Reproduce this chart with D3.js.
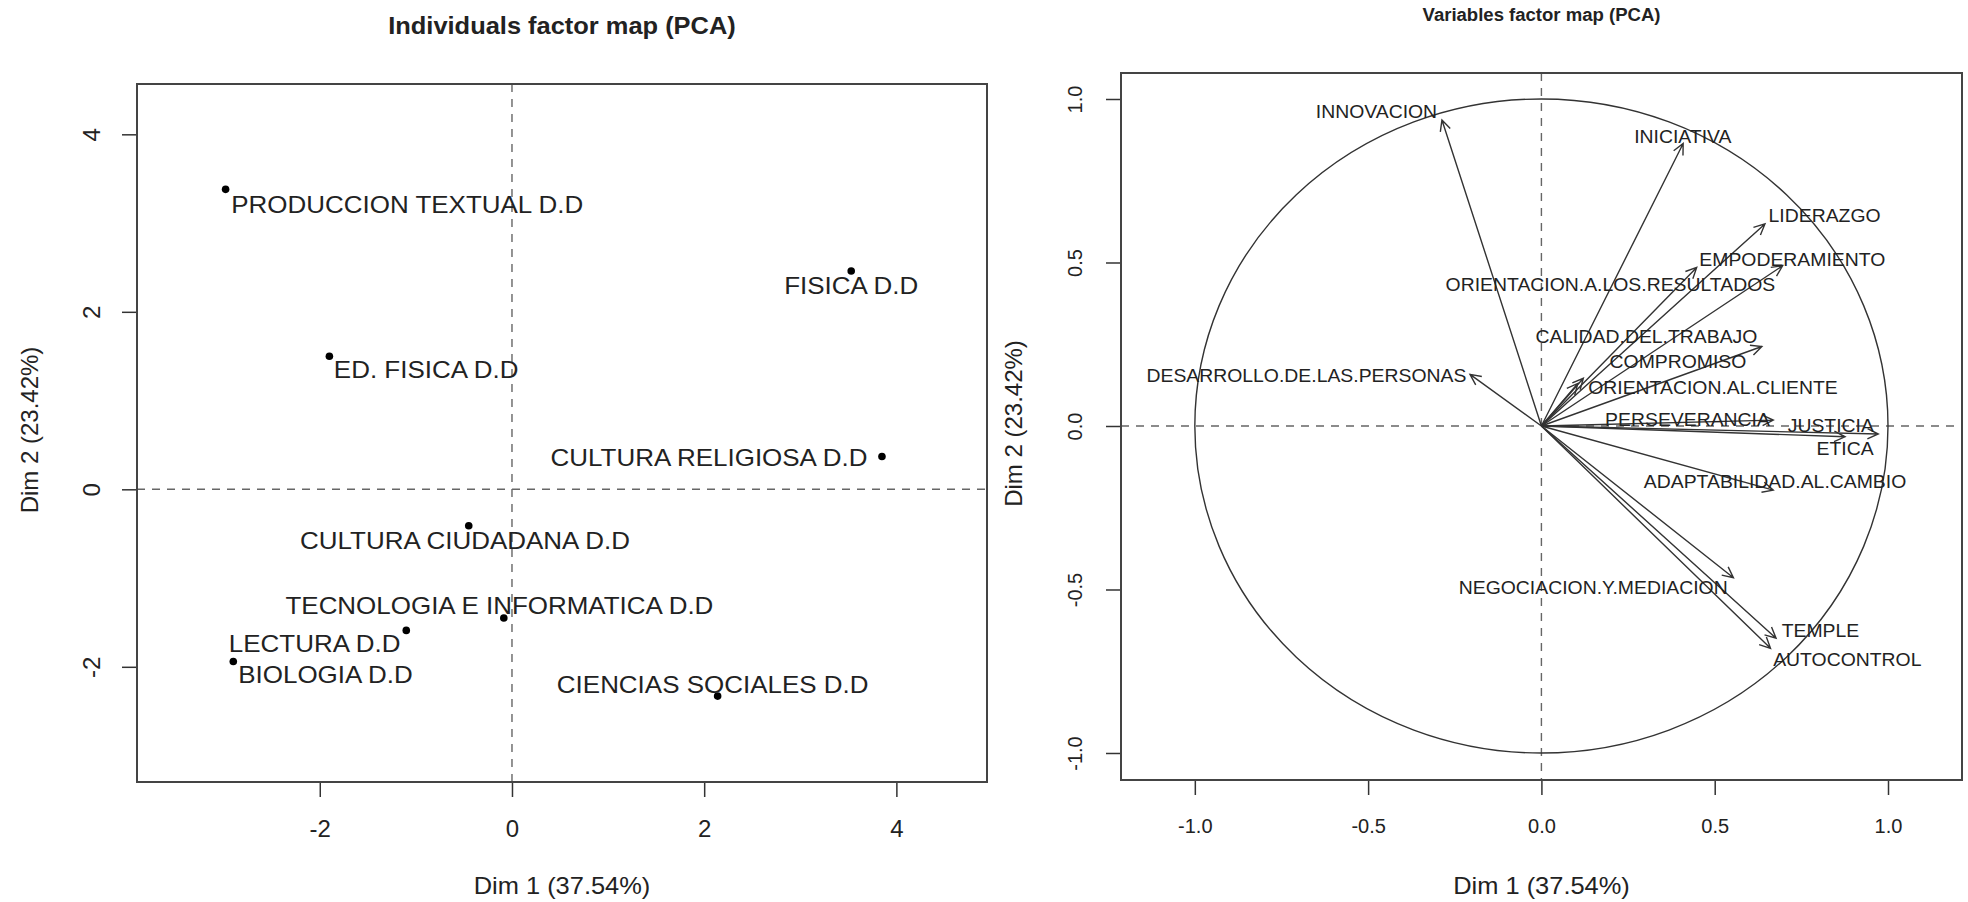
<!DOCTYPE html>
<html>
<head>
<meta charset="utf-8">
<script src="https://cdn.jsdelivr.net/npm/d3@7"></script>
<style>
  html, body { margin: 0; padding: 0; background: #fff; }
  svg { display: block; font-family: "Liberation Sans", Arial, sans-serif; }
</style>
</head>
<body>
<svg id="chart" width="1968" height="902"></svg>
<script>
// ---------------- DATA ----------------
const indNames = ["PRODUCCION TEXTUAL D.D", "ED. FISICA D.D", "FISICA D.D", "CULTURA RELIGIOSA D.D",
  "CULTURA CIUDADANA D.D", "TECNOLOGIA E INFORMATICA D.D", "LECTURA D.D", "BIOLOGIA D.D", "CIENCIAS SOCIALES D.D"];
const indDim1 = [-2.98, -1.90, 3.53, 3.85, -0.45, -0.085, -1.10, -2.90, 2.14];
const indDim2 = [3.38, 1.50, 2.46, 0.37, -0.41, -1.45, -1.59, -1.94, -2.33];
// label centres (data units) as placed by the label-repel routine
const indLabelDim1 = [-1.09, -0.893, 3.53, 2.05, -0.489, -0.131, -2.053, -1.94, 2.088];
const indLabelDim2 = [3.215, 1.35, 2.305, 0.362, -0.571, -1.307, -1.739, -2.08, -2.193];

const varNames = ["INNOVACION", "INICIATIVA", "LIDERAZGO", "EMPODERAMIENTO", "ORIENTACION.A.LOS.RESULTADOS",
  "CALIDAD.DEL.TRABAJO", "COMPROMISO", "ORIENTACION.AL.CLIENTE", "DESARROLLO.DE.LAS.PERSONAS",
  "PERSEVERANCIA", "JUSTICIA", "ETICA", "ADAPTABILIDAD.AL.CAMBIO", "NEGOCIACION.Y.MEDIACION",
  "TEMPLE", "AUTOCONTROL"];
const varDim1 = [-0.287, 0.409, 0.645, 0.448, 0.696, 0.636, 0.105, 0.121, -0.206, 0.669, 0.972, 0.876, 0.669, 0.554, 0.677, 0.661];
const varDim2 = [0.936, 0.864, 0.618, 0.485, 0.49, 0.243, 0.13, 0.146, 0.158, 0.018, -0.0245, -0.033, -0.196, -0.464, -0.649, -0.68];
const varLabelDim1 = [-0.476, 0.408, 0.817, 0.724, 0.199, 0.303, 0.394, 0.495, -0.678, 0.4215, 0.835, 0.876, 0.674, 0.1495, 0.805, 0.8825];
const varLabelDim2 = [0.961, 0.887, 0.645, 0.51, 0.433, 0.273, 0.197, 0.118, 0.156, 0.0205, 0.003, -0.068, -0.17, -0.494, -0.624, -0.7125];

const indXTicks = [-2, 0, 2, 4];
const indYTicks = [-2, 0, 2, 4];
const varXTicks = [-1.0, -0.5, 0.0, 0.5, 1.0];
const varYTicks = [-1.0, -0.5, 0.0, 0.5, 1.0];
const indXLim = [-3.902, 4.943];
const indYLim = [-3.298, 4.567];
const varXLim = [-1.213, 1.2135];
const varYLim = [-1.0826, 1.0795];

const titleInd = "Individuals factor map (PCA)";
const titleVar = "Variables factor map (PCA)";
const xLab = "Dim 1 (37.54%)";
const yLab = "Dim 2 (23.42%)";

// ---------------- DRAWING ----------------
const svg = d3.select("#chart");
const SX = 1.06; // horizontal text stretch of the original image
const INK = "#222";

function txt(g, x, y, s, size, opts = {}) {
  return g.append("text")
    .attr("transform", `translate(${x},${y}) scale(${opts.rot ? 1 : SX},1)` + (opts.rot ? " rotate(-90)" : ""))
    .attr("text-anchor", opts.anchor || "middle")
    .attr("dy", "0.36em")
    .attr("font-size", size)
    .attr("font-weight", opts.bold ? "bold" : "normal")
    .attr("fill", opts.fill || INK)
    .text(s);
}

function panel(cfg) {
  const g = svg.append("g");
  const x = d3.scaleLinear().domain(cfg.xlim).range([cfg.left, cfg.right]);
  const y = d3.scaleLinear().domain(cfg.ylim).range([cfg.bottom, cfg.top]);

  // zero lines
  g.append("line").attr("x1", cfg.left).attr("x2", cfg.right).attr("y1", y(0)).attr("y2", y(0))
    .attr("stroke", "#666").attr("stroke-width", 1.4).attr("stroke-dasharray", "8,7");
  g.append("line").attr("y1", cfg.top).attr("y2", cfg.bottom).attr("x1", x(0)).attr("x2", x(0))
    .attr("stroke", "#666").attr("stroke-width", 1.4).attr("stroke-dasharray", "8,7");

  // axes
  const xa = g.append("g").attr("transform", `translate(0,${cfg.bottom})`)
    .call(d3.axisBottom(x).tickValues(cfg.xticks).tickSize(15).tickFormat(cfg.fmt));
  const ya = g.append("g").attr("transform", `translate(${cfg.left},0)`)
    .call(d3.axisLeft(y).tickValues(cfg.yticks).tickSize(15).tickFormat(cfg.fmt));
  [xa, ya].forEach(a => {
    a.select(".domain").remove();
    a.selectAll(".tick line").attr("stroke", "#333").attr("stroke-width", 1.5);
  });
  xa.selectAll(".tick text")
    .attr("y", 46).attr("dy", "0.36em").attr("font-size", cfg.tickSize)
    .attr("fill", INK).attr("font-family", "Liberation Sans, Arial, sans-serif");
  ya.selectAll(".tick text")
    .attr("x", null).attr("dy", null)
    .attr("transform", "translate(-46,0) rotate(-90)")
    .attr("text-anchor", "middle").attr("dy", "0.36em")
    .attr("font-size", cfg.tickSize).attr("fill", INK)
    .attr("font-family", "Liberation Sans, Arial, sans-serif");

  // box
  g.append("rect").attr("x", cfg.left).attr("y", cfg.top)
    .attr("width", cfg.right - cfg.left).attr("height", cfg.bottom - cfg.top)
    .attr("fill", "none").attr("stroke", "#444").attr("stroke-width", 2);

  // titles
  txt(g, (cfg.left + cfg.right) / 2, cfg.titleY, cfg.title, cfg.titleSize, { bold: true });
  txt(g, (cfg.left + cfg.right) / 2, 885, xLab, 24);
  txt(g, cfg.ylabX, (cfg.top + cfg.bottom) / 2 - 3, yLab, 24, { rot: true });
  return { g, x, y };
}

// ----- Left: individuals -----
const L = panel({
  left: 137, right: 987, top: 84, bottom: 782,
  xlim: indXLim, ylim: indYLim, xticks: indXTicks, yticks: indYTicks,
  fmt: d => String(d), tickSize: 24,
  title: titleInd, titleSize: 24, titleY: 25, ylabX: 29
});
L.g.selectAll("circle.pt").data(indNames).join("circle").attr("class", "pt")
  .attr("cx", (d, i) => L.x(indDim1[i])).attr("cy", (d, i) => L.y(indDim2[i]))
  .attr("r", 3.8).attr("fill", "#000");
indNames.forEach((n, i) => txt(L.g, L.x(indLabelDim1[i]), L.y(indLabelDim2[i]), n, 24.5));

// ----- Right: variables -----
const R = panel({
  left: 1121, right: 1962, top: 73, bottom: 780,
  xlim: varXLim, ylim: varYLim, xticks: varXTicks, yticks: varYTicks,
  fmt: d => d.toFixed(1), tickSize: 20,
  title: titleVar, titleSize: 17.5, titleY: 15, ylabX: 1013
});
// correlation circle
R.g.append("ellipse")
  .attr("cx", R.x(0)).attr("cy", R.y(0))
  .attr("rx", R.x(1) - R.x(0)).attr("ry", R.y(0) - R.y(1))
  .attr("fill", "none").attr("stroke", "#333").attr("stroke-width", 1.4);

// arrows
const headLen = 12, headAng = Math.PI / 7;
varNames.forEach((n, i) => {
  const x0 = R.x(0), y0 = R.y(0), x1 = R.x(varDim1[i]), y1 = R.y(varDim2[i]);
  const a = Math.atan2(y1 - y0, x1 - x0);
  const p = d3.path();
  p.moveTo(x0, y0); p.lineTo(x1, y1);
  p.moveTo(x1 - headLen * Math.cos(a - headAng), y1 - headLen * Math.sin(a - headAng));
  p.lineTo(x1, y1);
  p.lineTo(x1 - headLen * Math.cos(a + headAng), y1 - headLen * Math.sin(a + headAng));
  R.g.append("path").attr("d", p.toString()).attr("fill", "none")
    .attr("stroke", "#333").attr("stroke-width", 1.4);
});
varNames.forEach((n, i) => txt(R.g, R.x(varLabelDim1[i]), R.y(varLabelDim2[i]), n, 18.3));
</script>
</body>
</html>
